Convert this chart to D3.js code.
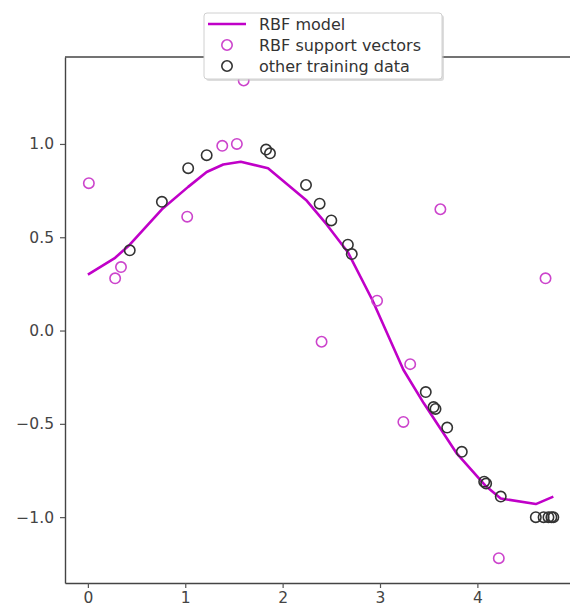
<!DOCTYPE html>
<html>
<head>
<meta charset="utf-8">
<script src="https://cdn.jsdelivr.net/npm/d3@7"></script>
<style>
  body { margin: 0; background: #fff; }
  svg { display: block; font-family: "DejaVu Sans", sans-serif; }
</style>
</head>
<body>
<div id="chart"></div>
<script>
// RBF model prediction (polyline through the sorted training inputs)
var modelX = [0.0, 0.28, 0.43, 0.76, 1.03, 1.22, 1.39, 1.57, 1.85, 2.24, 2.45, 2.67, 2.92, 3.24, 3.45, 3.79, 4.08, 4.24, 4.60, 4.78];
var modelY = [0.30, 0.39, 0.46, 0.65, 0.77, 0.85, 0.89, 0.905, 0.87, 0.70, 0.57, 0.42, 0.165, -0.21, -0.39, -0.66, -0.83, -0.90, -0.93, -0.89];

// support vectors
var svX = [0.01, 0.28, 0.34, 1.02, 1.38, 1.53, 1.60, 2.40, 2.97, 3.24, 3.31, 3.62, 4.22, 4.70];
var svY = [0.79, 0.28, 0.34, 0.61, 0.99, 1.00, 1.34, -0.06, 0.16, -0.49, -0.18, 0.65, -1.22, 0.28];

// other training data
var otherX = [0.43, 0.76, 1.03, 1.22, 1.83, 1.87, 2.24, 2.38, 2.50, 2.67, 2.71, 3.47, 3.55, 3.57, 3.69, 3.84, 4.07, 4.09, 4.24, 4.60, 4.68, 4.73, 4.76, 4.78];
var otherY = [0.43, 0.69, 0.87, 0.94, 0.97, 0.95, 0.78, 0.68, 0.59, 0.46, 0.41, -0.33, -0.41, -0.42, -0.52, -0.65, -0.81, -0.82, -0.89, -1.0, -1.0, -1.0, -1.0, -1.0];

var xTicks = [0, 1, 2, 3, 4];
var yTicks = [-1.0, -0.5, 0.0, 0.5, 1.0];
var legendLabels = ["RBF model", "RBF support vectors", "other training data"];

var width = 570, height = 603;
var plotLeft = 65, plotTop = 57, plotBottom = 583, plotRight = 576.7;

var svg = d3.select("#chart").append("svg")
    .attr("width", width)
    .attr("height", height);

var x = d3.scaleLinear().domain([-0.235, 5.02]).range([plotLeft, plotRight]);
var y = d3.scaleLinear().domain([-1.353, 1.466]).range([plotBottom, plotTop]);

var lineColor = "#c000c8", svColor = "#cc44cc", otherColor = "#333";

// model line
var line = d3.line()
    .x(function(d){ return x(d[0]); })
    .y(function(d){ return y(d[1]); });

svg.append("path")
    .datum(d3.zip(modelX, modelY))
    .attr("d", line)
    .attr("fill", "none")
    .attr("stroke", lineColor)
    .attr("stroke-width", 2.6)
    .attr("stroke-linejoin", "round");

svg.append("g").selectAll("circle")
    .data(d3.zip(svX, svY))
    .join("circle")
    .attr("cx", function(d){ return x(d[0]); })
    .attr("cy", function(d){ return y(d[1]); })
    .attr("r", 5.2)
    .attr("fill", "none")
    .attr("stroke", svColor)
    .attr("stroke-width", 1.6);

svg.append("g").selectAll("circle")
    .data(d3.zip(otherX, otherY))
    .join("circle")
    .attr("cx", function(d){ return x(d[0]); })
    .attr("cy", function(d){ return y(d[1]); })
    .attr("r", 5.2)
    .attr("fill", "none")
    .attr("stroke", otherColor)
    .attr("stroke-width", 1.6);

// axes
var fmt = d3.format(".1f");
var yAxis = svg.append("g")
    .attr("transform", "translate(" + plotLeft + ",0)")
    .call(d3.axisLeft(y).tickValues(yTicks).tickFormat(fmt)
        .tickSize(5).tickSizeOuter(0).tickPadding(6));

var xAxis = svg.append("g")
    .attr("transform", "translate(0," + plotBottom + ")")
    .call(d3.axisBottom(x).tickValues(xTicks).tickFormat(d3.format("d"))
        .tickSize(5).tickSizeOuter(0).tickPadding(4));

[xAxis, yAxis].forEach(function(a){
    a.select(".domain").attr("stroke", "#444").attr("stroke-width", 1.4);
    a.selectAll(".tick line").attr("stroke", "#555").attr("stroke-width", 1.2);
    a.selectAll(".tick text").attr("fill", "#444").attr("font-size", "15.5px")
        .attr("font-family", "DejaVu Sans, sans-serif");
});

// top spine
svg.append("line")
    .attr("x1", plotLeft).attr("x2", width)
    .attr("y1", plotTop).attr("y2", plotTop)
    .attr("stroke", "#444").attr("stroke-width", 1.4);

// legend
var lg = svg.append("g").attr("transform", "translate(204,13)");
lg.append("rect")
    .attr("x", 2).attr("y", 2)
    .attr("width", 238).attr("height", 66).attr("rx", 3)
    .attr("fill", "#bbb").attr("opacity", 0.5);
lg.append("rect")
    .attr("width", 238).attr("height", 66).attr("rx", 3)
    .attr("fill", "#fff").attr("stroke", "#d0d0d0");

var rowY = [11, 32, 53];
lg.append("line")
    .attr("x1", 4).attr("x2", 42)
    .attr("y1", rowY[0]).attr("y2", rowY[0])
    .attr("stroke", lineColor).attr("stroke-width", 2.6);
lg.append("circle").attr("cx", 23).attr("cy", rowY[1]).attr("r", 5.2)
    .attr("fill", "none").attr("stroke", svColor).attr("stroke-width", 1.6);
lg.append("circle").attr("cx", 23).attr("cy", rowY[2]).attr("r", 5.2)
    .attr("fill", "none").attr("stroke", otherColor).attr("stroke-width", 1.6);

lg.selectAll("text.lbl")
    .data(legendLabels)
    .join("text")
    .attr("class", "lbl")
    .attr("x", 55)
    .attr("y", function(d, i){ return rowY[i]; })
    .attr("dy", "0.35em")
    .attr("font-size", "16px")
    .attr("fill", "#333")
    .text(function(d){ return d; });
</script>
</body>
</html>
